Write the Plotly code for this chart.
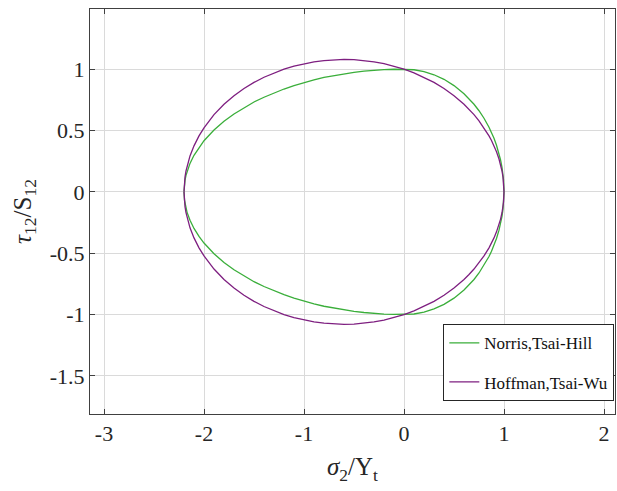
import plotly.graph_objects as go

# --- data (upper branch tau>0, lower branch tau<0) ---
sigma = [-2.2, -2.195, -2.19, -2.18, -2.17, -2.14, -2.1, -2.05, -2.0, -1.9, -1.8, -1.7, -1.6, -1.5,
         -1.4, -1.3, -1.2, -1.1, -1.0, -0.9, -0.8, -0.7, -0.6, -0.5, -0.4, -0.3, -0.2, -0.1, 0.0,
         0.1, 0.2, 0.3, 0.4, 0.5, 0.6, 0.65, 0.7, 0.75, 0.8, 0.85, 0.875, 0.9, 0.925, 0.95, 0.965,
         0.98, 0.99, 0.995, 1.0]

norris_tau_upper = [0.0, 0.067, 0.095, 0.135, 0.165, 0.232, 0.298, 0.363, 0.417, 0.504, 0.575, 0.635,
                    0.686, 0.732, 0.771, 0.807, 0.838, 0.866, 0.891, 0.912, 0.932, 0.948, 0.962, 0.974,
                    0.983, 0.991, 0.996, 0.999, 1.0, 0.995, 0.980, 0.954, 0.917, 0.866, 0.800, 0.760,
                    0.714, 0.661, 0.600, 0.527, 0.484, 0.436, 0.380, 0.312, 0.262, 0.199, 0.141, 0.100, 0.0]
norris_tau_lower = [0.0, -0.067, -0.095, -0.135, -0.165, -0.232, -0.298, -0.363, -0.417, -0.504, -0.575, -0.635,
                    -0.686, -0.732, -0.771, -0.807, -0.838, -0.866, -0.891, -0.912, -0.932, -0.948, -0.962, -0.974,
                    -0.983, -0.991, -0.996, -0.999, -1.0, -0.995, -0.980, -0.954, -0.917, -0.866, -0.800, -0.760,
                    -0.714, -0.661, -0.600, -0.527, -0.484, -0.436, -0.380, -0.312, -0.262, -0.199, -0.141, -0.100, 0.0]

hoffman_tau_upper = [0.0, 0.085, 0.120, 0.170, 0.208, 0.293, 0.375, 0.456, 0.522, 0.629, 0.714, 0.783,
                     0.842, 0.892, 0.934, 0.970, 1.0, 1.025, 1.045, 1.060, 1.070, 1.077, 1.079, 1.077,
                     1.070, 1.060, 1.045, 1.025, 1.0, 0.970, 0.934, 0.892, 0.842, 0.783, 0.714, 0.673,
                     0.629, 0.579, 0.522, 0.456, 0.418, 0.375, 0.326, 0.268, 0.224, 0.170, 0.120, 0.085, 0.0]
hoffman_tau_lower = [0.0, -0.085, -0.120, -0.170, -0.208, -0.293, -0.375, -0.456, -0.522, -0.629, -0.714, -0.783,
                     -0.842, -0.892, -0.934, -0.970, -1.0, -1.025, -1.045, -1.060, -1.070, -1.077, -1.079, -1.077,
                     -1.070, -1.060, -1.045, -1.025, -1.0, -0.970, -0.934, -0.892, -0.842, -0.783, -0.714, -0.673,
                     -0.629, -0.579, -0.522, -0.456, -0.418, -0.375, -0.326, -0.268, -0.224, -0.170, -0.120, -0.085, 0.0]

series_names = ["Norris,Tsai-Hill", "Hoffman,Tsai-Wu"]
x_ticks = [-3, -2, -1, 0, 1, 2]
x_tick_labels = ["-3", "-2", "-1", "0", "1", "2"]
y_ticks = [-1.5, -1, -0.5, 0, 0.5, 1]
y_tick_labels = ["-1.5", "-1", "-0.5", "0", "0.5", "1"]

GREEN = "#3aae3a"
PURPLE = "#7e1f80"
FONT = "Liberation Serif"

fig = go.Figure()
fig.add_trace(go.Scatter(
    x=sigma + sigma[::-1],
    y=norris_tau_upper + norris_tau_lower[::-1],
    mode="lines", line=dict(color=GREEN, width=1.3),
    name=series_names[0], legendgroup="a"))
fig.add_trace(go.Scatter(
    x=sigma + sigma[::-1],
    y=hoffman_tau_upper + hoffman_tau_lower[::-1],
    mode="lines", line=dict(color=PURPLE, width=1.3),
    name=series_names[1], legendgroup="b"))

axis_common = dict(
    showline=True, linecolor="#404040", linewidth=1, mirror="allticks",
    ticks="inside", ticklen=5, tickcolor="#404040",
    showgrid=True, gridcolor="#dadada", gridwidth=1,
    zeroline=False, tickfont=dict(family=FONT, size=22, color="#262626"),
)

fig.update_xaxes(
    range=[-3.14, 2.11], tickvals=x_ticks, ticktext=x_tick_labels,
    title=dict(text="<i>σ</i><sub>2</sub>/Y<sub>t</sub>", font=dict(family=FONT, size=25, color="#262626"), standoff=12),
    **axis_common)
fig.update_yaxes(
    range=[-1.81, 1.49], tickvals=y_ticks, ticktext=y_tick_labels,
    title=dict(text="<i>τ</i><sub>12</sub>/S<sub>12</sub>", font=dict(family=FONT, size=25, color="#262626"), standoff=11),
    **axis_common)

fig.update_layout(
    width=617, height=491,
    margin=dict(l=90, r=2, t=9, b=77),
    paper_bgcolor="white", plot_bgcolor="white",
    font=dict(family=FONT),
    showlegend=True,
    legend=dict(
        x=0.673, y=0.2215, xanchor="left", yanchor="top",
        bgcolor="white", bordercolor="#262626", borderwidth=1,
        font=dict(family=FONT, size=17, color="#111111"),
        tracegroupgap=14, traceorder="grouped", itemwidth=30,
    ),
)

fig.write_html("out.html")
